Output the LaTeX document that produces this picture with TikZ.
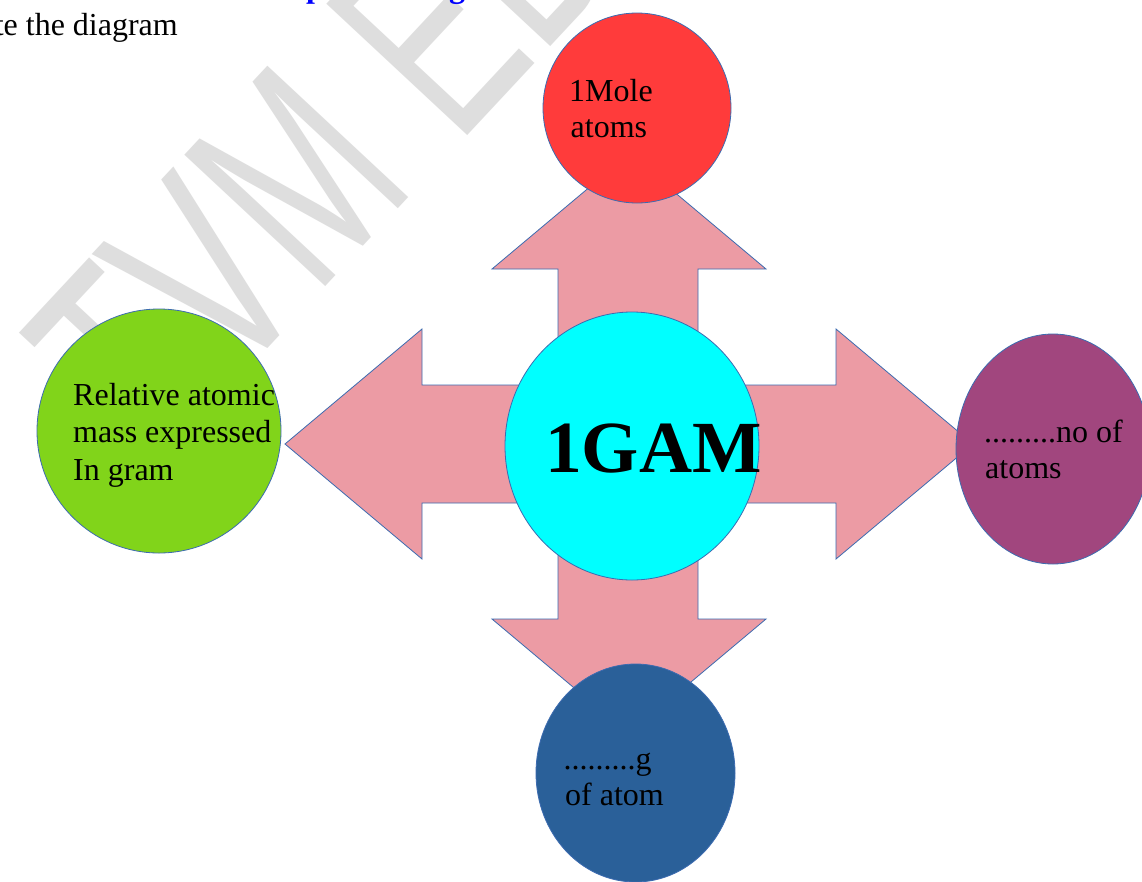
\documentclass[tikz,border=0pt]{standalone}
\usepackage{fontspec}
\setmainfont{Liberation Serif}
\newfontfamily\wmfont{Liberation Sans}
\usetikzlibrary{shapes.geometric}
\definecolor{wmgray}{RGB}{222,222,222}
\definecolor{arrowpink}{HTML}{EC9BA4}
\definecolor{edgeblue}{HTML}{3C6BB0}
\definecolor{redc}{HTML}{FF3B3B}
\definecolor{cyanc}{HTML}{00FFFF}
\definecolor{greenc}{HTML}{81D41A}
\definecolor{purplec}{HTML}{A1467E}
\definecolor{bluec}{HTML}{2A6099}
\definecolor{titleblue}{HTML}{0000FF}
\begin{document}
\begin{tikzpicture}[x=1pt,y=-1pt,
  blob/.style={ellipse, draw=edgeblue, line width=0.8pt, inner sep=0pt, outer sep=0pt},
  lbl/.style={anchor=base west, inner sep=0pt, font=\fontsize{32}{37}\selectfont},
  wm/.style={anchor=base west, inner sep=0pt, rotate=47, text=wmgray, font=\wmfont\fontsize{280}{280}\selectfont},
  bigarrow/.style={fill=arrowpink, draw=edgeblue, line width=0.8pt, line join=miter}]
\useasboundingbox (0,0) rectangle (1142,881);
\clip (0,0) rectangle (1142,881);
\fill[white] (0,0) rectangle (1142,881);
% watermark
\node[wm] (wmA) at (157,468) {\scalebox{0.65}[1]{TVM}};
\node[wm] (wmB) at (457.4,146.7) {\scalebox{0.65}[1]{ED}};
% header fragments
\node[lbl, anchor=base east] (instr) at (178,35) {te the diagram};
\node[lbl, font=\bfseries\fontsize{32}{37}\selectfont, text=titleblue] (hp) at (306,-3) {p};
\node[lbl, font=\bfseries\fontsize{32}{37}\selectfont, text=titleblue] (hg) at (449,-3) {g};
% four-way arrow
\draw[bigarrow] (629,154) -- (766,269) -- (698,269) -- (698,385) -- (836,385) -- (836,329)
  -- (973,444) -- (836,559) -- (836,503) -- (698,503) -- (698,619) -- (766,619)
  -- (629,734) -- (492,619) -- (558,619) -- (558,503) -- (422,503) -- (422,559)
  -- (285,444) -- (422,329) -- (422,385) -- (558,385) -- (558,269) -- (492,269) -- cycle;
% circles
\node[blob, fill=redc, minimum width=188, minimum height=190] (mole) at (637,108) {};
\node[blob, fill=cyanc, minimum width=254, minimum height=268] (gam) at (632,446) {};
\node[blob, fill=greenc, minimum width=244, minimum height=244] (ram) at (159,431) {};
\node[blob, fill=purplec, minimum width=194, minimum height=230] (noat) at (1053,449) {};
\node[blob, fill=bluec, minimum width=199, minimum height=218] (gat) at (635.5,773) {};
% texts
\node[lbl] (t1a) at (569,101.5) {1Mole};
\node[lbl] (t1b) at (570.5,137.5) {atoms};
\node[anchor=base west, inner sep=0pt, font=\bfseries\fontsize{73.5}{80}\selectfont] (tgam) at (545,472) {1GAM};
\node[lbl] (t2a) at (73,405) {Relative atomic};
\node[lbl] (t2b) at (73,442.5) {mass expressed};
\node[lbl] (t2c) at (73,480) {In gram};
\node[lbl] (t3a) at (984,442.7) {.........no of};
\node[lbl] (t3b) at (985,478.7) {atoms};
\node[lbl] (t4a) at (563.5,769.5) {.........g};
\node[lbl] (t4b) at (565,805) {of atom};
\end{tikzpicture}
\end{document}
